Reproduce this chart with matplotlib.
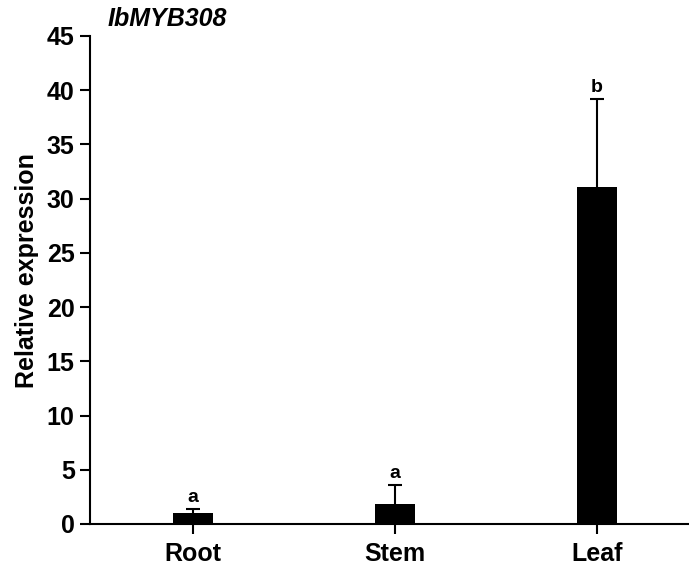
import matplotlib.pyplot as plt

plt.rcParams['font.family'] = ['Liberation Sans', 'DejaVu Sans']
plt.rcParams['font.weight'] = 'bold'

tissues = ['Root', 'Stem', 'Leaf']
expression = [1.04, 1.82, 31.05]
sd = [0.31, 1.75, 8.15]
letters = ['a', 'a', 'b']

fig = plt.figure(figsize=(6.89, 5.65), dpi=100)
ax = fig.add_axes([0.1306, 0.0726, 0.868, 0.8637])

x = range(len(tissues))
ax.bar(x, expression, width=0.2, color='black')
_, caps, _ = ax.errorbar(x, expression, yerr=[[0] * len(sd), sd], fmt='none',
                         ecolor='black', elinewidth=1.5, capsize=5, capthick=1.5)
# only keep the upper cap
caps[0].set_visible(False)

for xi, m, s, lab in zip(x, expression, sd, letters):
    ax.text(xi, m + s + 0.3, lab, ha='center', va='bottom',
            fontsize=14, fontweight='bold')

ax.set_xlim(-0.51, 2.45)
ax.set_ylim(0, 45)
ax.set_yticks(range(0, 46, 5))
ax.set_xticks(list(x))
ax.set_xticklabels(tissues)
ax.tick_params(axis='both', labelsize=18, width=1.5, length=7)
ax.tick_params(axis='x', pad=6)
ax.tick_params(axis='y', pad=4)
for lbl in ax.get_xticklabels() + ax.get_yticklabels():
    lbl.set_fontweight('bold')

ax.spines['top'].set_visible(False)
ax.spines['right'].set_visible(False)
ax.spines['left'].set_linewidth(1.5)
ax.spines['bottom'].set_linewidth(1.5)

ax.set_ylabel('Relative expression', fontsize=18, fontweight='bold')
ax.yaxis.set_label_coords(-0.086, 0.52)
ax.text(0.03, 1.035, 'IbMYB308', transform=ax.transAxes, fontsize=18,
        fontweight='bold', fontstyle='italic', ha='left', va='center')

fig.savefig('out.png', dpi=100)
